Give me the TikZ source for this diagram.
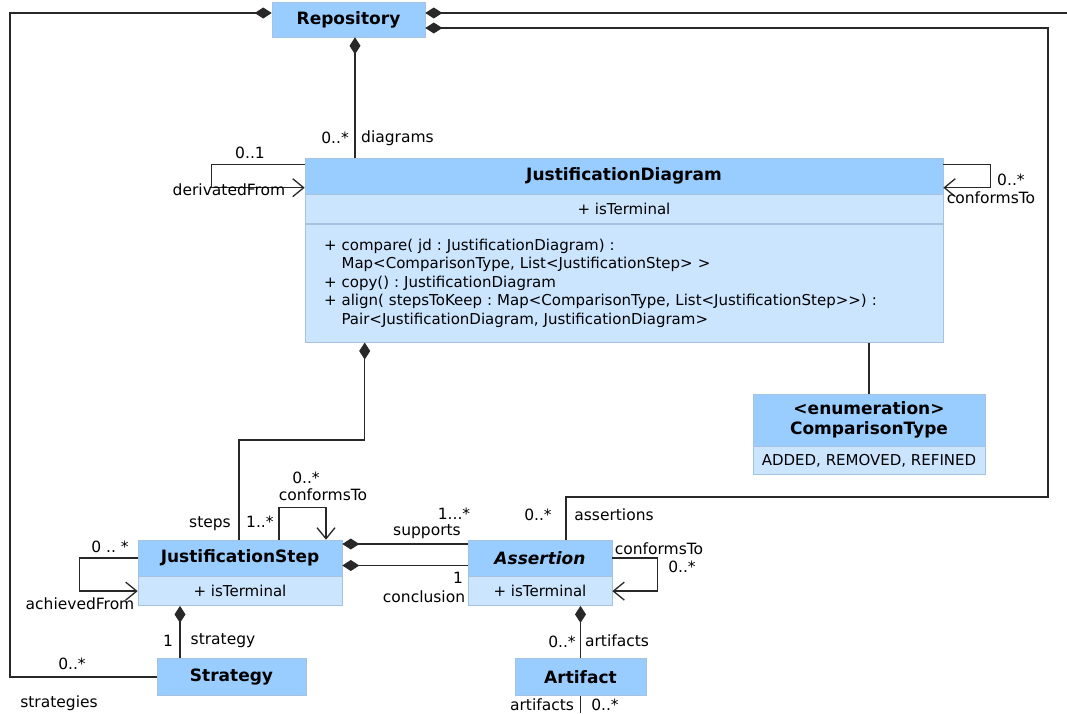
\documentclass[tikz,border=0pt]{standalone}
\usepackage{fontspec}
\setmainfont{DejaVu Sans}
\usetikzlibrary{arrows.meta,positioning}
\definecolor{hdrblue}{RGB}{153,204,255}
\definecolor{cptblue}{RGB}{204,229,255}
\definecolor{edgeblue}{RGB}{165,195,225}
\definecolor{linegray}{RGB}{40,40,40}
\frenchspacing

\begin{document}
\begin{tikzpicture}[x=1pt, y=-1pt,
    hdr/.style={rectangle, draw=edgeblue, fill=hdrblue, line width=0.6pt, inner sep=0pt, align=center, font=\fontsize{17}{20}\selectfont\bfseries},
    cpt/.style={rectangle, draw=edgeblue, fill=cptblue, line width=0.6pt, inner sep=0pt, font=\fontsize{15}{18}\selectfont},
    lbl/.style={inner sep=0pt, font=\fontsize{15.5}{18}\selectfont},
    comp/.style={{Diamond[length=17pt,width=11pt]}-, line width=1.3pt, draw=linegray},
    nav/.style={-{Straight Barb[length=11pt,width=18pt]}, line width=1.3pt, draw=linegray},
    assoc/.style={line width=1.3pt, draw=linegray}]
    \useasboundingbox (0,0) rectangle (1067,713);

    % Classes
    \node[hdr, minimum width=153pt, minimum height=35pt] (repo) at (348.5,19.5) {Repository};
    \node[hdr, minimum width=638pt, minimum height=36pt] (jd) at (624,176) {JustificationDiagram};
    \node[cpt, minimum width=638pt, minimum height=29pt, below=0pt of jd] (jdattr) {+ isTerminal};
    \node[cpt, minimum width=638pt, minimum height=118pt, below=0pt of jdattr, text width=600pt, align=left, font=\fontsize{15}{18.5}\selectfont] (jdops)
        {+ compare( jd : JustificationDiagram) :\\
         \hphantom{+\ }Map<ComparisonType, List<JustificationStep> >\\
         + copy() : JustificationDiagram\\
         + align( stepsToKeep : Map<ComparisonType, List<JustificationStep>{}>) :\\
         \hphantom{+\ }Pair<JustificationDiagram, JustificationDiagram>};
    \node[hdr, minimum width=232pt, minimum height=52pt] (ct) at (869,420) {<enumeration>\\ComparisonType};
    \node[cpt, minimum width=232pt, minimum height=28pt, below=0pt of ct] (ctlit) {ADDED, REMOVED, REFINED};
    \node[hdr, minimum width=204pt, minimum height=36pt] (js) at (240,558) {JustificationStep};
    \node[cpt, minimum width=204pt, minimum height=29pt, below=0pt of js] (jsattr) {+ isTerminal};
    \node[hdr, minimum width=144pt, minimum height=36pt] (as) at (540,558) {\itshape Assertion};
    \node[cpt, minimum width=144pt, minimum height=29pt, below=0pt of as] (asattr) {+ isTerminal};
    \node[hdr, minimum width=149pt, minimum height=37pt] (strat) at (231.5,677) {Strategy};
    \node[hdr, minimum width=131pt, minimum height=37pt] (art) at (580.5,677) {Artifact};

    % Free ends and bends
    \coordinate (toright) at (1067,13);
    \coordinate (leftrail) at (10,400);
    \coordinate (rightrail) at (1048,497);
    \coordinate (stepbend) at (239,440);
    \coordinate (artout) at (580.5,713);

    % Repository compositions
    \draw[comp] ([yshift=6.5pt]repo.west) -| (leftrail) |- (strat.west);
    \draw[comp] ([yshift=6.5pt]repo.east) -- (toright);
    \draw[comp] ([yshift=-8.5pt]repo.east) -| (rightrail) -| ([xshift=26pt]as.north);
    \draw[comp] ([xshift=6.5pt]repo.south) -- ([xshift=6.5pt]repo.south |- jd.north);
    \node[lbl, anchor=east] at (349,138) {0..*};
    \node[lbl, anchor=west] at (361,138) {diagrams};
    \node[lbl] at (538,515) {0..*};
    \node[lbl] at (614,515) {assertions};
    \node[lbl] at (72,664) {0..*};
    \node[lbl] at (59,703) {strategies};

    % JustificationDiagram
    \draw[nav] ([yshift=-7pt]jd.north west) -- ++(-93,0) |- ([yshift=-30pt]jd.north west);
    \node[lbl] at (250,153) {0..1};
    \node[lbl] at (229,190) {derivatedFrom};
    \draw[nav] ([yshift=-7pt]jd.north east) -- ++(47,0) |- ([yshift=-30pt]jd.north east);
    \node[lbl, anchor=west] at (997,180) {0..*};
    \node[lbl] at (991,198) {conformsTo};
    \draw[assoc] (ct.north |- jdops.south) -- (ct.north);
    \draw[comp] ([xshift=60pt]jdops.south west) |- (stepbend) -- (js.north -| stepbend);
    \node[lbl, anchor=east] at (231,524) {steps};
    \node[lbl, anchor=west] at (246,522) {1..*};

    % JustificationStep
    \draw[nav] ([xshift=39pt]js.north) -- ++(0,-32) -| ([xshift=86pt]js.north);
    \node[lbl] at (306,478) {0..*};
    \node[lbl] at (323,495) {conformsTo};
    \draw[nav] (js.west) -- ++(-58,0) |- (jsattr.west);
    \node[lbl] at (110,547) {0 .. *};
    \node[lbl] at (80,604) {achievedFrom};
    \draw[comp] ([yshift=14pt]js.east) -- ([yshift=14pt]as.west);
    \draw[comp] ([yshift=-7.5pt]js.east) -- ([yshift=-7.5pt]as.west);
    \node[lbl] at (454,514) {1...*};
    \node[lbl] at (427,532) {supports};
    \node[lbl] at (458,578) {1};
    \node[lbl] at (424,597) {conclusion};
    \draw[comp] ([xshift=-60pt]jsattr.south) -- ([xshift=-60pt]jsattr.south |- strat.north);
    \node[lbl] at (168,641) {1};
    \node[lbl] at (223,641) {strategy};

    % Assertion
    \draw[nav] (as.east) -- ++(45,0) |- (asattr.east);
    \node[lbl] at (659,549) {conformsTo};
    \node[lbl] at (682,567) {0..*};
    \draw[comp] (asattr.south -| art.north) -- (art.north);
    \node[lbl] at (562,642) {0..*};
    \node[lbl] at (617,641) {artifacts};
    \draw[assoc] (art.south) -- (artout);
    \node[lbl] at (542,705) {artifacts};
    \node[lbl] at (605,705) {0..*};
\end{tikzpicture}
\end{document}
